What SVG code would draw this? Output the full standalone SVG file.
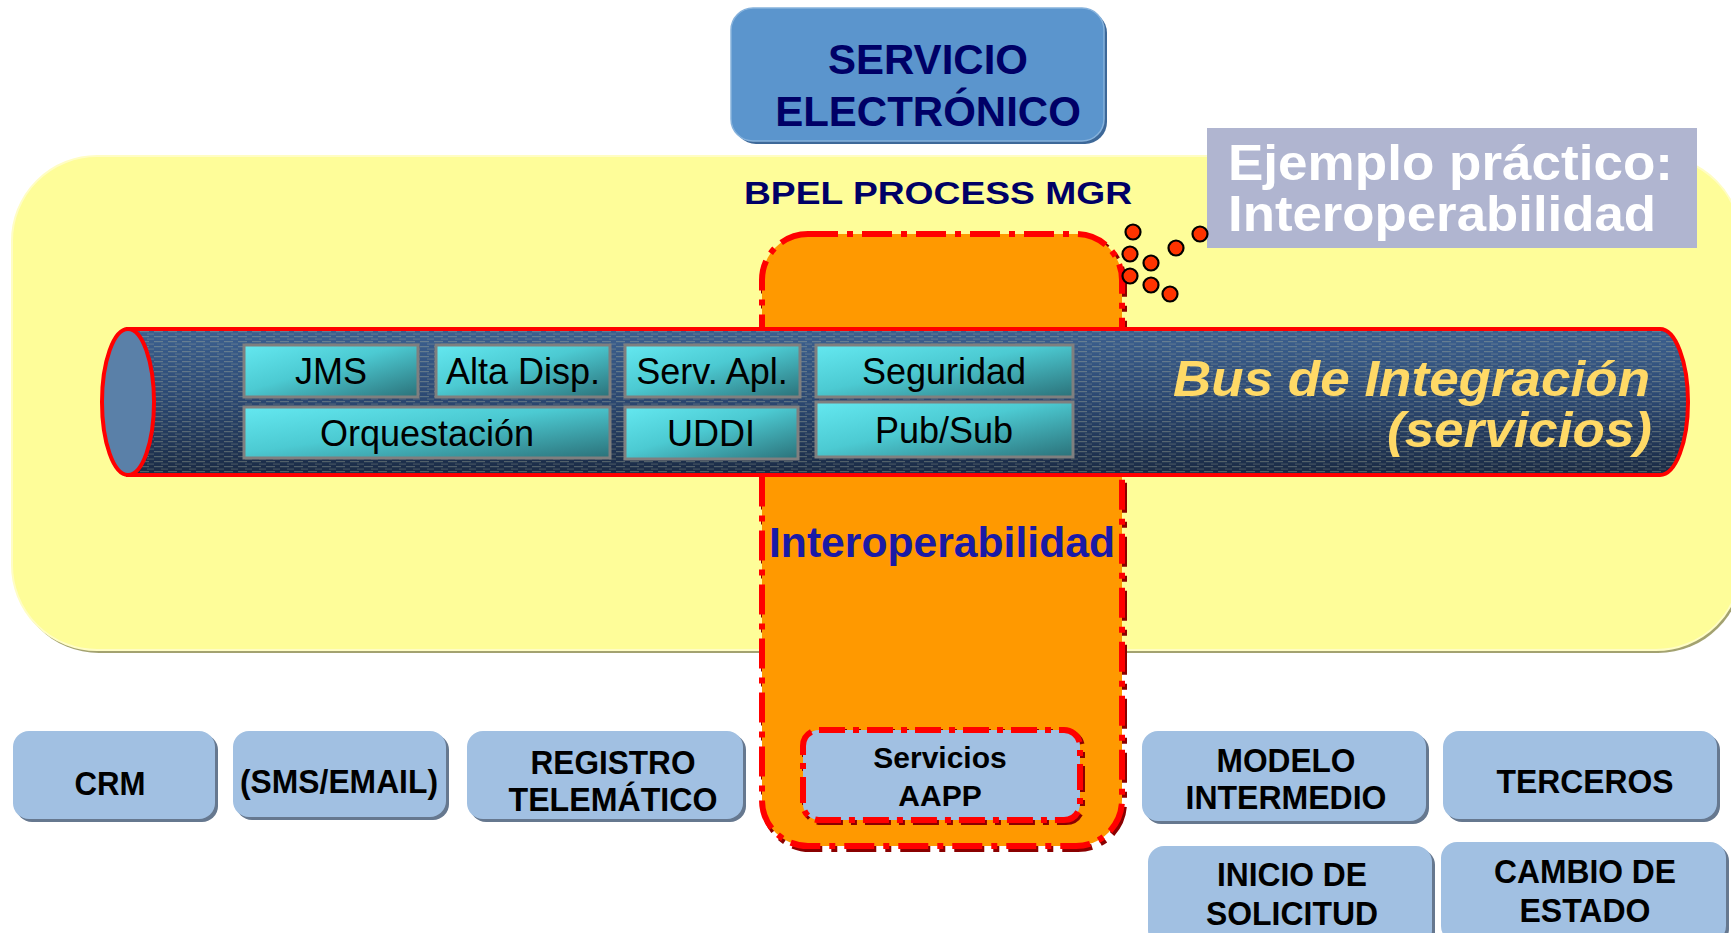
<svg xmlns="http://www.w3.org/2000/svg" width="1731" height="933" viewBox="0 0 1731 933">
<defs>
<style>
text{font-family:"Liberation Sans",Arial,sans-serif;}
.mod{fill:url(#teal);stroke:#7f7f7f;stroke-width:3;}
.modt{font-size:36px;fill:#000;text-anchor:middle;}
.bshadow{fill:#66788f;}
.bbox{fill:#a1c0e2;}
.bt{font-size:34px;font-weight:bold;fill:#000;text-anchor:middle;}
.dot{fill:#ff3300;stroke:#000;stroke-width:2.2;}
</style>
<linearGradient id="teal" x1="0" y1="0" x2="1" y2="1">
<stop offset="0" stop-color="#64e8f0"/>
<stop offset="0.45" stop-color="#4ccad2"/>
<stop offset="1" stop-color="#2b7179"/>
</linearGradient>
<linearGradient id="busg" x1="0" y1="0" x2="0" y2="1">
<stop offset="0" stop-color="#3d6190"/>
<stop offset="0.5" stop-color="#2b4770"/>
<stop offset="1" stop-color="#1a2a44"/>
</linearGradient>
<pattern id="lines" width="14" height="5" patternUnits="userSpaceOnUse">
<rect x="0" y="1" width="9" height="1.2" fill="#b8bca0" opacity="0.35"/>
<rect x="7" y="3.5" width="9" height="1.2" fill="#b8bca0" opacity="0.25"/>
</pattern>
</defs>

<rect width="1731" height="933" fill="#ffffff"/>

<g id="bpel-area">
<rect x="14" y="159" width="1729" height="494" rx="85" fill="#a3a270"/>
<rect x="12" y="156" width="1729" height="494" rx="85" fill="#fefd99" stroke="#fffdc4" stroke-width="2"/>
<text x="938" y="204" font-size="32" font-weight="bold" fill="#000066" text-anchor="middle" textLength="388" lengthAdjust="spacingAndGlyphs">BPEL PROCESS MGR</text>
</g>

<g id="node-interoperabilidad">
<rect x="764" y="237" width="360" height="612" rx="46" fill="none" stroke="#8a0000" stroke-width="6" stroke-dasharray="30 9 6 9"/>
<rect x="762" y="234" width="360" height="612" rx="46" fill="#ff9900" stroke="#ff0000" stroke-width="6" stroke-dasharray="30 9 6 9"/>
<text x="942" y="557" font-size="42" font-weight="bold" fill="#1a1aa6" text-anchor="middle" textLength="346" lengthAdjust="spacingAndGlyphs">Interoperabilidad</text>
</g>

<g id="node-servicios-aapp">
<rect x="805" y="732" width="277" height="90" rx="16" fill="none" stroke="#8a0000" stroke-width="6" stroke-dasharray="26 8 6 8"/>
<rect x="803" y="730" width="277" height="90" rx="16" fill="#a1c0e2" stroke="#ff0000" stroke-width="6" stroke-dasharray="26 8 6 8"/>
<text x="940" y="768" font-size="30" font-weight="bold" fill="#000" text-anchor="middle">Servicios</text>
<text x="940" y="806" font-size="30" font-weight="bold" fill="#000" text-anchor="middle">AAPP</text>
</g>

<g id="node-bus">
<path d="M128,329 L1660,329 A28,73 0 0 1 1660,475 L128,475 Z" fill="url(#busg)"/>
<path d="M128,329 L1660,329 A28,73 0 0 1 1660,475 L128,475 Z" fill="url(#lines)" stroke="#ff0000" stroke-width="4"/>
<ellipse cx="128" cy="402" rx="26" ry="73" fill="#5a80a8" stroke="#ff0000" stroke-width="4"/>
<text x="1650" y="396" font-size="50" font-weight="bold" font-style="italic" fill="#ffd966" text-anchor="end" textLength="477" lengthAdjust="spacingAndGlyphs">Bus de Integración</text>
<text x="1652" y="447" font-size="50" font-weight="bold" font-style="italic" fill="#ffd966" text-anchor="end" textLength="265" lengthAdjust="spacingAndGlyphs">(servicios)</text>
</g>

<g id="node-jms"><rect class="mod" x="244" y="345" width="174" height="52"/><text class="modt" x="331" y="384">JMS</text></g>
<g id="node-alta-disp"><rect class="mod" x="436" y="345" width="174" height="52"/><text class="modt" x="523" y="384">Alta Disp.</text></g>
<g id="node-serv-apl"><rect class="mod" x="625" y="345" width="175" height="52"/><text class="modt" x="712" y="384">Serv. Apl.</text></g>
<g id="node-seguridad"><rect class="mod" x="816" y="345" width="257" height="52"/><text class="modt" x="944" y="384">Seguridad</text></g>
<g id="node-orquestacion"><rect class="mod" x="244" y="407" width="366" height="51"/><text class="modt" x="427" y="446">Orquestación</text></g>
<g id="node-uddi"><rect class="mod" x="625" y="407" width="173" height="52"/><text class="modt" x="711" y="446">UDDI</text></g>
<g id="node-pubsub"><rect class="mod" x="816" y="402" width="257" height="55"/><text class="modt" x="944" y="443">Pub/Sub</text></g>

<g id="node-servicio-electronico">
<rect x="734" y="11" width="373" height="133" rx="22" fill="#3d6898"/>
<rect x="731" y="8" width="373" height="133" rx="22" fill="#5b95cd" stroke="#86b2dc" stroke-width="1.5"/>
<text x="928" y="74" font-size="42" font-weight="bold" fill="#000066" text-anchor="middle">SERVICIO</text>
<text x="928" y="126" font-size="42" font-weight="bold" fill="#000066" text-anchor="middle">ELECTRÓNICO</text>
</g>

<g id="node-ejemplo">
<rect x="1207" y="128" width="490" height="120" fill="#b0b5d0"/>
<text x="1228" y="180" font-size="50" font-weight="bold" fill="#ffffff" textLength="445" lengthAdjust="spacingAndGlyphs">Ejemplo práctico:</text>
<text x="1228" y="231" font-size="50" font-weight="bold" fill="#ffffff" textLength="428" lengthAdjust="spacingAndGlyphs">Interoperabilidad</text>
</g>

<g id="dots">
<circle class="dot" cx="1133" cy="232" r="7.5"/>
<circle class="dot" cx="1200" cy="234" r="7.5"/>
<circle class="dot" cx="1176" cy="248" r="7.5"/>
<circle class="dot" cx="1130" cy="254" r="7.5"/>
<circle class="dot" cx="1151" cy="263" r="7.5"/>
<circle class="dot" cx="1130" cy="276" r="7.5"/>
<circle class="dot" cx="1151" cy="285" r="7.5"/>
<circle class="dot" cx="1170" cy="294" r="7.5"/>
</g>

<g id="node-crm"><rect class="bshadow" x="16" y="734" width="202" height="88" rx="16"/><rect class="bbox" x="13" y="731" width="202" height="88" rx="16"/><text class="bt" x="110" y="795" textLength="71" lengthAdjust="spacingAndGlyphs">CRM</text></g>
<g id="node-sms"><rect class="bshadow" x="236" y="734" width="213" height="86" rx="16"/><rect class="bbox" x="233" y="731" width="213" height="86" rx="16"/><text class="bt" x="339" y="793" textLength="198" lengthAdjust="spacingAndGlyphs">(SMS/EMAIL)</text></g>
<g id="node-registro"><rect class="bshadow" x="470" y="734" width="276" height="88" rx="16"/><rect class="bbox" x="467" y="731" width="276" height="88" rx="16"/><text class="bt" x="613" y="774" textLength="165" lengthAdjust="spacingAndGlyphs">REGISTRO</text><text class="bt" x="613" y="811" textLength="209" lengthAdjust="spacingAndGlyphs">TELEMÁTICO</text></g>
<g id="node-modelo"><rect class="bshadow" x="1145" y="734" width="284" height="90" rx="16"/><rect class="bbox" x="1142" y="731" width="284" height="90" rx="16"/><text class="bt" x="1286" y="772" textLength="139" lengthAdjust="spacingAndGlyphs">MODELO</text><text class="bt" x="1286" y="809" textLength="201" lengthAdjust="spacingAndGlyphs">INTERMEDIO</text></g>
<g id="node-terceros"><rect class="bshadow" x="1446" y="734" width="274" height="88" rx="16"/><rect class="bbox" x="1443" y="731" width="274" height="88" rx="16"/><text class="bt" x="1585" y="793" textLength="177" lengthAdjust="spacingAndGlyphs">TERCEROS</text></g>
<g id="node-inicio"><rect class="bshadow" x="1151" y="849" width="284" height="100" rx="16"/><rect class="bbox" x="1148" y="846" width="284" height="100" rx="16"/><text class="bt" x="1292" y="886" textLength="150" lengthAdjust="spacingAndGlyphs">INICIO DE</text><text class="bt" x="1292" y="925" textLength="172" lengthAdjust="spacingAndGlyphs">SOLICITUD</text></g>
<g id="node-cambio"><rect class="bshadow" x="1444" y="845" width="285" height="100" rx="16"/><rect class="bbox" x="1441" y="842" width="285" height="100" rx="16"/><text class="bt" x="1585" y="883" textLength="182" lengthAdjust="spacingAndGlyphs">CAMBIO DE</text><text class="bt" x="1585" y="922" textLength="131" lengthAdjust="spacingAndGlyphs">ESTADO</text></g>
</svg>
